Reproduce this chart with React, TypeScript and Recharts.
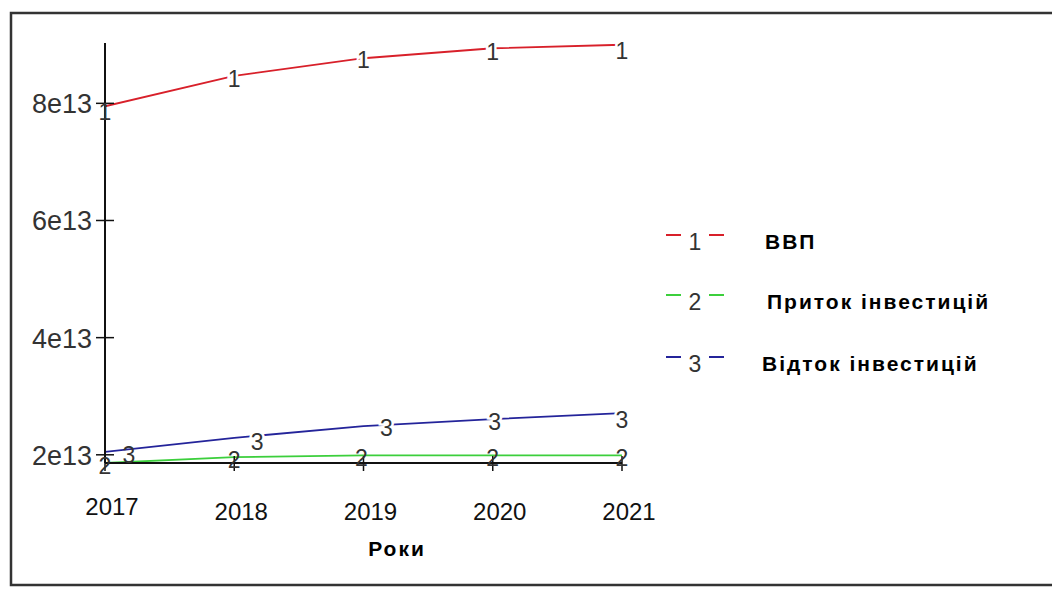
import React from "react";
import { LabelList, Line, LineChart, XAxis, YAxis } from "recharts";

// years on the horizontal axis
const years = [2017, 2018, 2019, 2020, 2021];
// ВВП, приток і відток інвестицій
const gdp = [7.95e13, 8.47e13, 8.77e13, 8.94e13, 9.0e13];
const inflow = [1.86e13, 1.96e13, 1.99e13, 1.99e13, 1.99e13];
const outflow = [2.05e13, 2.29e13, 2.49e13, 2.61e13, 2.71e13];
const yTicks = [2e13, 4e13, 6e13, 8e13];
const yDomain = [1.86e13, 9.03e13];

const seriesNames = ["ВВП", "Приток інвестицій", "Відток інвестицій"];
const seriesColors = ["#d8202a", "#3ccf3c", "#24249a"];

const data = years.map((year, i) => ({ year, gdp: gdp[i], inflow: inflow[i], outflow: outflow[i] }));

const W = 1052;
const H = 589;
const FONT = "'Liberation Sans', Arial, sans-serif";

const fmtExp = (v: number) => {
  const exp = Math.floor(Math.log10(v));
  return `${Math.round(v / Math.pow(10, exp))}e${exp}`;
};

function XTick(props: any) {
  const { x, y, payload, index } = props;
  return (
    <g>
      <line x1={x} x2={x} y1={y - 7} y2={y + 8} stroke="#111" strokeWidth={1.5} />
      <text x={x + 7} y={y + (index === 0 ? 43 : 48)} textAnchor="middle" dominantBaseline="central"
        fontSize={24} fontFamily={FONT} fill="#111">{payload.value}</text>
    </g>
  );
}

function YTick(props: any) {
  const { x, y, payload } = props;
  return (
    <g>
      <line x1={x - 9} x2={x + 9} y1={y} y2={y} stroke="#111" strokeWidth={1.5} />
      <text x={x - 13} y={y + 1} textAnchor="end" dominantBaseline="central"
        fontSize={27} fontFamily={FONT} fill="#333">{fmtExp(payload.value)}</text>
    </g>
  );
}

// numbered curve labels, nudged a bit off the vertices
const digitLabel = (digit: string, offsets: number[][], halo: boolean) => (props: any) => {
  const { x, y, index } = props;
  const [dx, dy] = offsets[index] ?? [0, 0];
  const useHalo = halo && index > 0;
  return (
    <text x={x + dx} y={y + dy} textAnchor="middle" dominantBaseline="central" fontSize={23}
      fontFamily={FONT} fill="#333" stroke={useHalo ? "#fff" : "none"} strokeWidth={useHalo ? 5 : 0}
      paintOrder="stroke">{digit}</text>
  );
};

function Legend() {
  const rows = [240, 300, 362];
  const textX = [765, 767, 762];
  return (
    <g>
      {seriesNames.map((name, i) => (
        <g key={name}>
          <line x1={666} x2={681} y1={rows[i] - 5} y2={rows[i] - 5} stroke={seriesColors[i]} strokeWidth={2} />
          <text x={695} y={rows[i] + 2} textAnchor="middle" dominantBaseline="central" fontSize={23}
            fontFamily={FONT} fill="#333">{i + 1}</text>
          <line x1={709} x2={724} y1={rows[i] - 5} y2={rows[i] - 5} stroke={seriesColors[i]} strokeWidth={2} />
          <text x={textX[i]} y={rows[i] + 1} dominantBaseline="central" fontSize={21} fontWeight="bold"
            letterSpacing={2} fontFamily={FONT} fill="#000">{name}</text>
        </g>
      ))}
    </g>
  );
}

export default function App() {
  return (
    <div style={{ position: "fixed", left: 0, top: 0, width: W, height: H, background: "#fff", overflow: "hidden" }}>
      <LineChart width={W} height={H} data={data} margin={{ top: 43, right: 430, bottom: 66, left: 5 }}>
        <XAxis dataKey="year" type="number" domain={[2017, 2021]} ticks={years} allowDataOverflow
          height={60} tickSize={0} tickMargin={0} tickLine={false} axisLine={{ stroke: "#111", strokeWidth: 2 }}
          tick={<XTick />} interval={0} />
        <YAxis type="number" domain={yDomain} ticks={yTicks} allowDataOverflow width={100}
          tickSize={0} tickMargin={0} tickLine={false} axisLine={{ stroke: "#111", strokeWidth: 2 }}
          tick={<YTick />} interval={0} />
        <Line dataKey="gdp" stroke={seriesColors[0]} strokeWidth={1.8} dot={false} isAnimationActive={false}>
          <LabelList dataKey="gdp" content={digitLabel("1", [[0, 6], [0, 3], [0, 2], [0, 4], [0, 6]], true)} />
        </Line>
        <Line dataKey="inflow" stroke={seriesColors[1]} strokeWidth={1.8} dot={false} isAnimationActive={false}>
          <LabelList dataKey="inflow" content={digitLabel("2", [[0, 3], [0, 3], [-2, 3], [0, 3], [0, 3]], false)} />
        </Line>
        <Line dataKey="outflow" stroke={seriesColors[2]} strokeWidth={1.8} dot={false} isAnimationActive={false}>
          <LabelList dataKey="outflow" content={digitLabel("3", [[24, 3], [23, 4], [23, 2], [2, 3], [0, 7]], true)} />
        </Line>
      </LineChart>
      <svg width={W} height={H} style={{ position: "absolute", left: 0, top: 0, pointerEvents: "none" }}>
        <path d={`M ${W + 5} 13 H 11 V 585 H ${W + 5}`} fill="none" stroke="#333" strokeWidth={2.5} />
        <text x={397} y={548} textAnchor="middle" dominantBaseline="central" fontSize={21} fontWeight="bold"
          letterSpacing={2} fontFamily={FONT} fill="#000">Роки</text>
        <Legend />
      </svg>
    </div>
  );
}
